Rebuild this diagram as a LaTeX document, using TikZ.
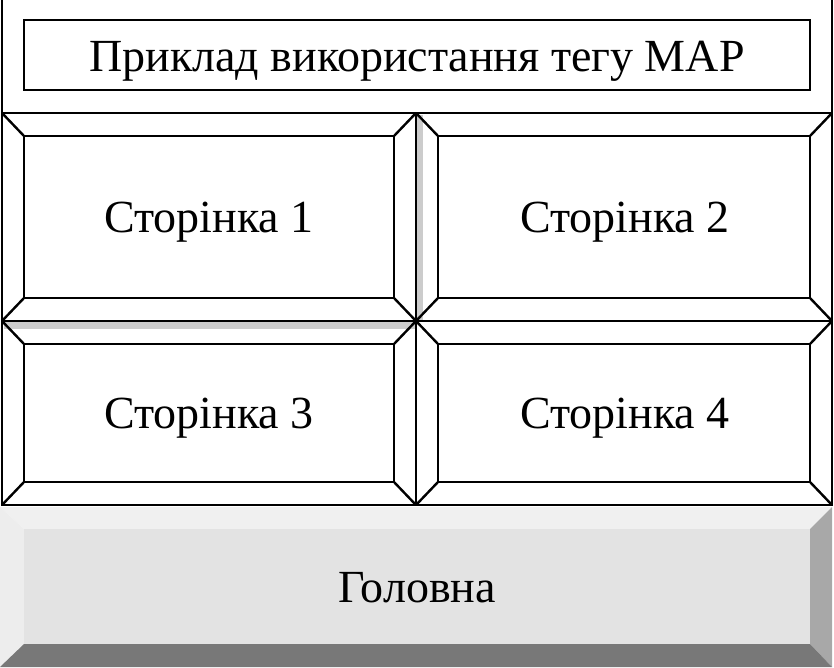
\documentclass[tikz,border=0pt]{standalone}
\usepackage{fontspec}
\setmainfont{Liberation Serif}
\newfontfamily\pagefont{Liberation Serif}

% bevelled button: outer corners (#1,#2) and (#3,#4)
\newcommand{\bevelbox}[4]{%
  \draw[frame] (#1,#2) rectangle (#3,#4);
  \draw[frame] (#1+22,#2+23) rectangle (#3-22,#4-23);
  \draw[frame] (#1,#2) -- (#1+22,#2+23) (#3,#2) -- (#3-22,#2+23)
               (#3,#4) -- (#3-22,#4-23) (#1,#4) -- (#1+22,#4-23);
}

\tikzset{
  frame/.style={draw=black,line width=2.4pt},
  pagetext/.style={font=\pagefont\fontsize{46}{54}\selectfont,text depth=0pt},
}

\begin{document}
\begin{tikzpicture}[x=1pt,y=-1pt]
  \useasboundingbox (0,0) rectangle (834,667);

  % window frame and title
  \draw[frame] (2,0) -- (2,113);
  \draw[frame] (832,0) -- (832,113);
  \draw[frame] (24,20) rectangle (810,90);
  \node[pagetext] (title) at (417,56) {Приклад використання тегу MAP};

  % shadow of the first button
  \fill[gray!40] (417,115) rectangle (423,321);
  \fill[gray!40] (4,322) rectangle (416,329);

  % the four page buttons
  \bevelbox{2}{113}{416}{321}
  \bevelbox{416}{113}{832}{321}
  \bevelbox{2}{321}{416}{505}
  \bevelbox{416}{321}{832}{505}
  \node[pagetext] (page1) at (209,217.5) {Сторінка 1};
  \node[pagetext] (page2) at (625,217.5) {Сторінка 2};
  \node[pagetext] (page3) at (209,413) {Сторінка 3};
  \node[pagetext] (page4) at (625,413) {Сторінка 4};

  % home button, grey bevel
  \fill[black!6] (0,507) -- (832,507) -- (810,529) -- (24,529) -- cycle;
  \fill[black!7] (0,507) -- (24,529) -- (24,644) -- (0,667) -- cycle;
  \fill[black!34] (832,507) -- (832,667) -- (810,644) -- (810,529) -- cycle;
  \fill[black!53] (0,667) -- (24,644) -- (810,644) -- (832,667) -- cycle;
  \fill[black!11] (24,529) rectangle (810,644);
  \node[pagetext] (home) at (417,587.5) {Головна};
\end{tikzpicture}
\end{document}
